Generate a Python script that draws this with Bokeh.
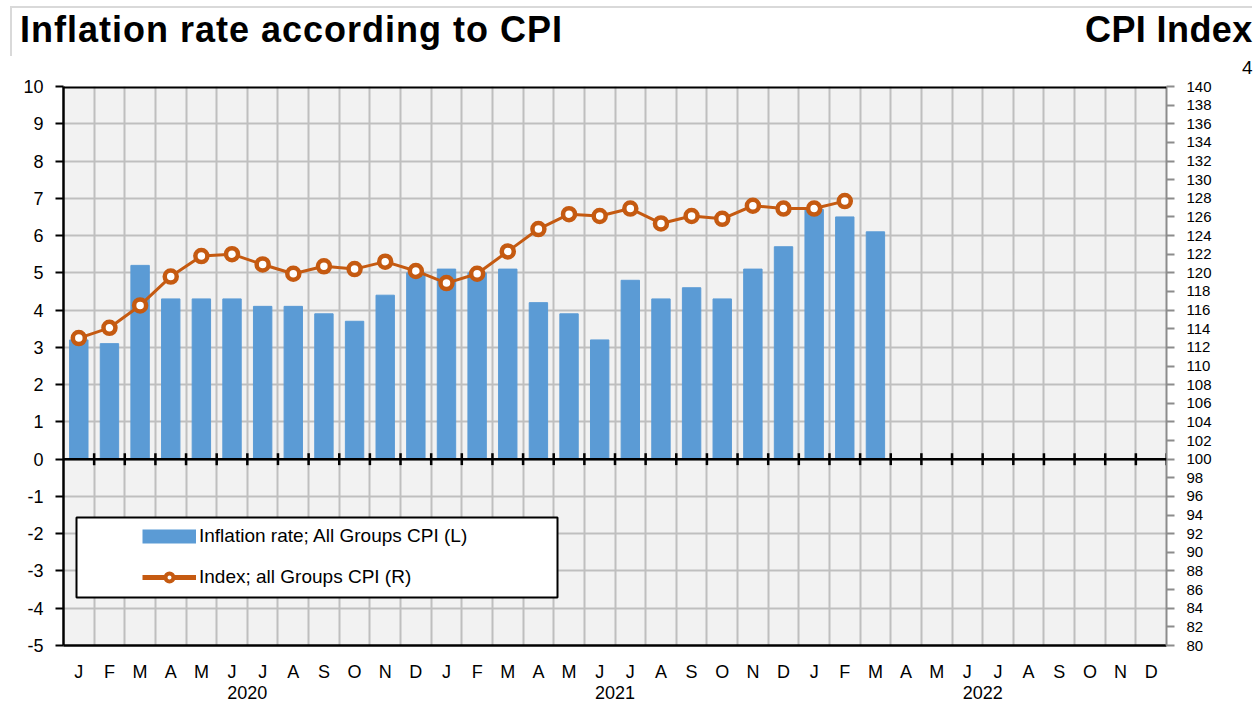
from bokeh.plotting import figure
from bokeh.layouts import column
from bokeh.models import (Range1d, LinearAxis, FixedTicker, CustomJSTickFormatter, Span,
                          Legend, LegendItem, BoxAnnotation, ColumnDataSource, Div)
from bokeh.embed import file_html
from bokeh.resources import INLINE

# ---------------- data ----------------
month_labels = ["J", "F", "M", "A", "M", "J", "J", "A", "S", "O", "N", "D"] * 3
years = ["2020", "2021", "2022"]
# Inflation rate; All Groups CPI (L), Jan 2020 - Mar 2022
inflation = [3.2, 3.1, 5.2, 4.3, 4.3, 4.3, 4.1, 4.1, 3.9, 3.7, 4.4, 5.0,
             5.1, 5.0, 5.1, 4.2, 3.9, 3.2, 4.8, 4.3, 4.6, 4.3, 5.1, 5.7,
             6.7, 6.5, 6.1]
# Index; all Groups CPI (R), Jan 2020 - Feb 2022
cpi_index = [113.0, 114.1, 116.5, 119.6, 121.8, 122.0, 120.9, 119.9, 120.7, 120.4, 121.2, 120.2,
             118.9, 119.9, 122.3, 124.7, 126.3, 126.1, 126.9, 125.3, 126.1, 125.8, 127.2, 126.9,
             126.9, 127.7]
left_ticks = list(range(-5, 11))
right_ticks = list(range(80, 141, 2))
title_text = "Inflation rate according to CPI"
side_title_text = "CPI Index"
side_note_text = "4"

FONT = "Liberation Sans"
BAR_COLOR = "#5B9BD5"
LINE_COLOR = "#C55A11"
GRID_COLOR = "#BFBFBF"

n_months = len(month_labels)
bar_src = ColumnDataSource(dict(x=list(range(len(inflation))), top=inflation))
line_src = ColumnDataSource(dict(x=list(range(len(cpi_index))), y=cpi_index))

W, H = 1259, 703
HEAD_H = 78
FL, FR, FT, FB = 63, 1166, 86, 645  # frame edges in page pixels

# ---------------- header with the titles ----------------
header_html = (
    f'<div style="position:relative;width:{W}px;height:{HEAD_H}px;overflow:hidden;'
    f'font-family:\'{FONT}\',Arial,sans-serif;color:black;">'
    '<div style="position:absolute;left:10px;top:6px;width:1242px;height:50px;'
    'border-top:2px solid #D9D9D9;border-left:2px solid #D9D9D9;"></div>'
    '<span style="position:absolute;left:20px;top:12px;font-size:36px;font-weight:bold;'
    f'letter-spacing:1px;line-height:1;white-space:nowrap;">{title_text}</span>'
    '<span style="position:absolute;left:1085px;top:12px;font-size:36px;font-weight:bold;'
    f'letter-spacing:0.4px;line-height:1;white-space:nowrap;">{side_title_text}</span>'
    '<span style="position:absolute;left:1242px;top:58px;font-size:19px;'
    f'line-height:1;white-space:nowrap;">{side_note_text}</span>'
    '</div>'
)
head = Div(text=header_html, width=W, height=HEAD_H, margin=0)

# ---------------- main chart ----------------
p = figure(width=W, height=H - HEAD_H, output_backend="svg", toolbar_location=None,
           x_range=Range1d(-0.5, n_months - 0.5), y_range=Range1d(-5, 10),
           min_border_left=FL, min_border_right=W - FR, min_border_top=FT - HEAD_H,
           min_border_bottom=H - FB,
           background_fill_color="#F2F2F2", border_fill_color="white", margin=0)
p.outline_line_color = None
p.extra_y_ranges = {"cpi": Range1d(80, 140)}

# grids
p.xgrid.ticker = FixedTicker(ticks=[i + 0.5 for i in range(n_months - 1)])
p.ygrid.ticker = FixedTicker(ticks=left_ticks)
for g in (p.xgrid, p.ygrid):
    g.grid_line_color = GRID_COLOR
    g.grid_line_width = 2

# left axis
la = p.yaxis[0]
la.ticker = FixedTicker(ticks=left_ticks)
la.major_label_overrides = {t: str(t) for t in left_ticks}
la.axis_line_color = "black"
la.axis_line_width = 2.5
la.major_tick_line_color = "black"
la.major_tick_line_width = 2
la.major_tick_out = 8
la.major_tick_in = 0
la.minor_tick_line_color = None
la.major_label_standoff = 12
la.major_label_text_font = FONT
la.major_label_text_font_size = "18px"
la.major_label_text_color = "black"

# right axis
ra = LinearAxis(y_range_name="cpi", ticker=FixedTicker(ticks=right_ticks))
ra.axis_line_color = "#8C8C8C"
ra.axis_line_width = 2
ra.major_tick_line_color = "#8C8C8C"
ra.major_tick_line_width = 2
ra.major_tick_out = 8
ra.major_tick_in = 0
ra.minor_tick_line_color = None
ra.major_label_standoff = 12
ra.major_label_text_font = FONT
ra.major_label_text_font_size = "15px"
ra.major_label_text_color = "black"
p.add_layout(ra, "right")

# bottom month axis
ba = p.xaxis[0]
ba.ticker = FixedTicker(ticks=list(range(n_months)))
ba.formatter = CustomJSTickFormatter(args=dict(labels=month_labels),
                                     code="return labels[Math.round(tick)] || '';")
ba.axis_line_color = "black"
ba.axis_line_width = 2.5
ba.major_tick_line_color = None
ba.major_tick_out = 0
ba.major_tick_in = 0
ba.minor_tick_line_color = None
ba.major_label_standoff = 16
ba.major_label_text_font = FONT
ba.major_label_text_font_size = "18px"
ba.major_label_text_color = "black"

# year axis
ya = LinearAxis(ticker=FixedTicker(ticks=[5.5 + 12 * k for k in range(len(years))]),
                formatter=CustomJSTickFormatter(args=dict(years=years),
                                                code="return years[Math.round((tick - 5.5) / 12)] || '';"))
ya.axis_line_color = None
ya.major_tick_line_color = None
ya.minor_tick_line_color = None
ya.major_tick_out = 0
ya.major_tick_in = 0
ya.major_label_standoff = 1
ya.major_label_text_font = FONT
ya.major_label_text_font_size = "18px"
ya.major_label_text_color = "black"
p.add_layout(ya, "below")

# top border (half clipped by the frame)
p.add_layout(Span(location=10, dimension="width", line_color="black", line_width=4))

# bars
p.vbar(x="x", top="top", bottom=0, width=0.6, source=bar_src,
       fill_color=BAR_COLOR, line_color=BAR_COLOR)

# zero line with crossing ticks
p.add_layout(Span(location=0, dimension="width", line_color="black", line_width=2.5))
bounds = [i + 0.5 for i in range(n_months)]
p.segment(x0=bounds, x1=bounds, y0=[-0.16] * len(bounds), y1=[0.16] * len(bounds),
          line_color="black", line_width=2.5)

# CPI index line
p.line(x="x", y="y", source=line_src, y_range_name="cpi", line_color=LINE_COLOR, line_width=3)
p.scatter(x="x", y="y", source=line_src, y_range_name="cpi", marker="circle", size=12,
          fill_color="white", line_color=LINE_COLOR, line_width=4.5)

# legend box
p.add_layout(BoxAnnotation(left=13, right=494, bottom=48, top=128,
                           left_units="screen", right_units="screen",
                           bottom_units="screen", top_units="screen",
                           fill_color="white", fill_alpha=1.0, line_color="black",
                           line_alpha=1.0, line_width=2))

# legend swatches (hidden renderers, only drawn inside the legend)
d_bar = p.line(x="x", y="top", source=bar_src, line_color=BAR_COLOR, line_width=14, visible=False)
d_line = p.line(x="x", y="y", source=line_src, y_range_name="cpi",
                line_color=LINE_COLOR, line_width=5, visible=False)
d_mark = p.scatter(x="x", y="y", source=line_src, y_range_name="cpi", marker="circle", size=11,
                   fill_color="white", line_color=LINE_COLOR, line_width=4, visible=False)
legend = Legend(items=[LegendItem(label="Inflation rate; All Groups CPI (L)", renderers=[d_bar]),
                       LegendItem(label="Index; all Groups CPI (R)", renderers=[d_line, d_mark])],
                location=(79, 57), orientation="vertical",
                border_line_color=None, background_fill_alpha=0, padding=0, margin=0,
                glyph_width=54, glyph_height=20, label_height=20, spacing=19, label_standoff=3,
                label_text_font=FONT, label_text_font_size="19px", label_text_color="black")
p.add_layout(legend, "center")

layout = column(head, p, spacing=0)
open("out.html", "w").write(file_html(layout, INLINE))
